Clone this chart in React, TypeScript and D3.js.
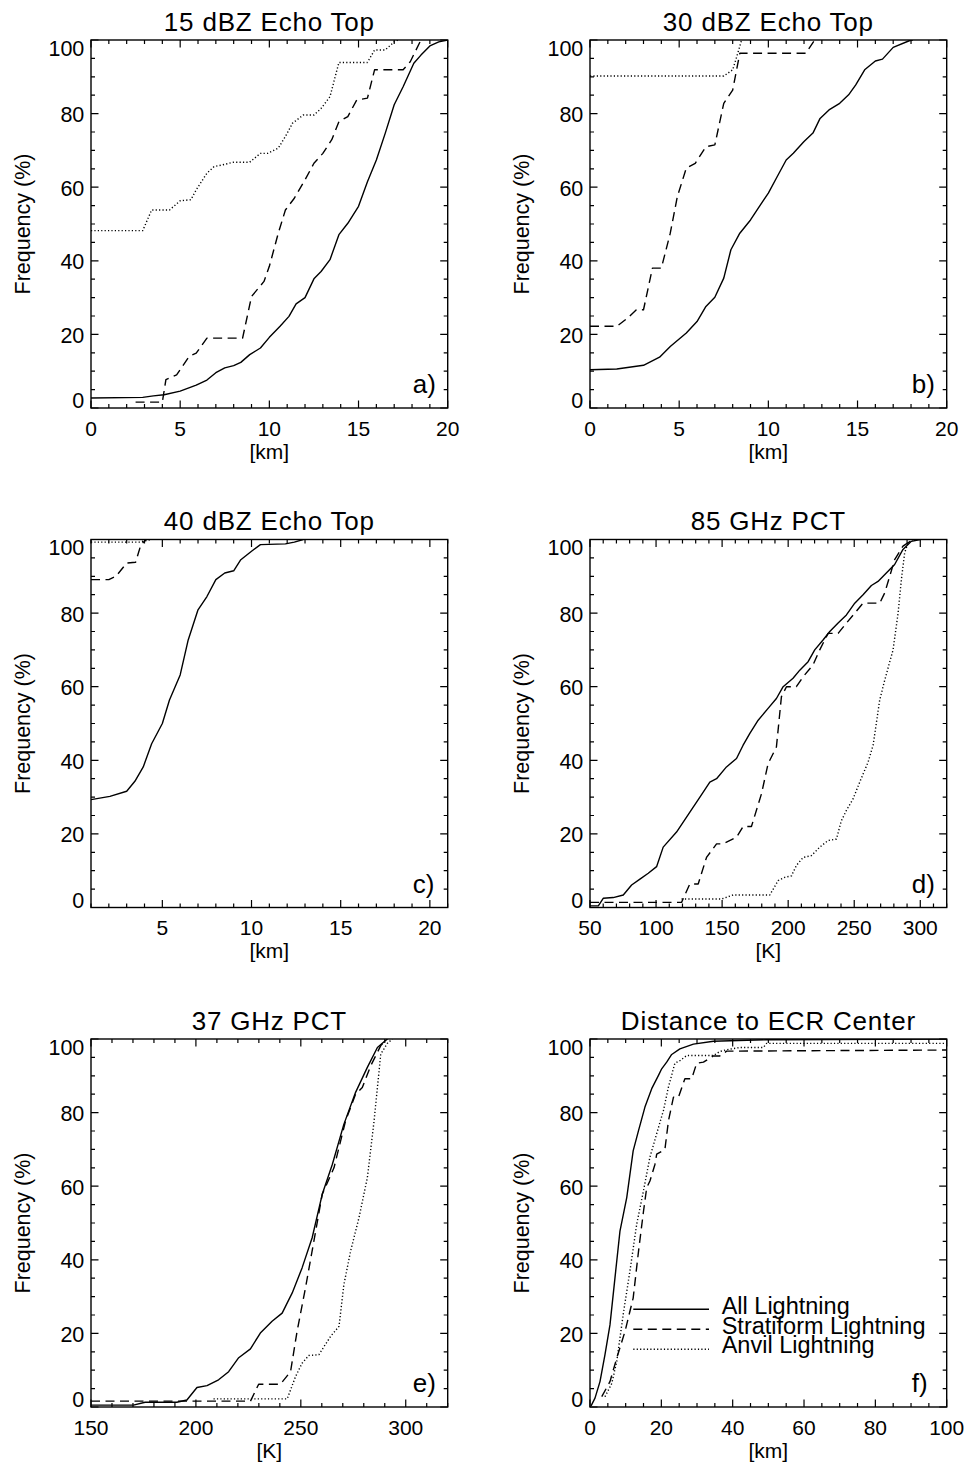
import React from 'react';
import * as d3 from 'd3';

type Pt = [number, number];

// ---- data (x, cumulative frequency %) ----
const echo15All: Pt[] = [[0,2.7],[2.9,2.9],[3.5,3.3],[4.1,3.6],[5.0,4.6],[5.9,6.2],[6.5,7.6],[7.0,9.6],[7.5,10.9],[8.0,11.5],[8.4,12.4],[8.9,14.5],[9.5,16.3],[10.0,19.2],[10.6,22.2],[11.1,24.9],[11.5,28.3],[12.0,30.0],[12.5,35.1],[12.9,37.1],[13.4,40.3],[13.9,47.1],[14.4,50.2],[15.0,54.8],[15.5,61.5],[16.0,67.4],[16.5,74.7],[17.0,82.4],[17.5,87.3],[18.1,93.7],[18.5,95.9],[19.0,98.4],[19.5,99.5],[20,100]];
const echo15Strat: Pt[] = [[2.5,1.6],[4.0,1.6],[4.2,7.7],[4.8,9.0],[5.5,14.0],[5.9,14.9],[6.5,19.0],[8.5,19.0],[9.0,30.3],[9.7,34.4],[10.0,38.5],[10.5,47.5],[10.9,53.8],[11.4,57.0],[12.0,62.0],[12.5,66.5],[13.0,69.2],[13.5,72.9],[13.9,77.8],[14.4,79.2],[14.9,83.7],[15.5,84.2],[15.9,91.9],[17.5,91.9],[17.9,94.1],[18.5,100]];
const echo15Anvil: Pt[] = [[0,48.2],[2.9,48.2],[3.4,53.8],[4.4,53.8],[5.0,56.3],[5.6,56.6],[5.9,59.3],[6.5,63.8],[6.9,65.6],[7.4,66.1],[8.0,66.8],[8.9,66.8],[9.5,69.2],[9.9,69.2],[10.5,70.6],[10.9,73.8],[11.3,77.4],[11.9,79.6],[12.5,79.6],[12.9,81.4],[13.4,84.6],[13.9,93.9],[15.5,93.9],[15.9,97.3],[16.5,97.3],[17.0,99.5],[17.2,100]];

const echo30All: Pt[] = [[0,10.4],[1.5,10.6],[3.0,11.6],[3.9,13.8],[4.5,16.7],[5.4,20.4],[6.0,23.5],[6.5,27.6],[7.0,30.1],[7.5,35.3],[7.9,43.0],[8.4,47.5],[9.0,51.1],[9.5,54.8],[10.0,58.4],[10.5,62.9],[11.0,67.4],[11.4,69.2],[12.0,72.4],[12.5,74.7],[12.9,78.7],[13.4,81.0],[14.0,82.8],[14.5,85.1],[14.9,87.8],[15.4,91.9],[16.0,94.3],[16.4,94.8],[17.0,98.0],[17.9,99.8],[18.1,100]];
const echo30Strat: Pt[] = [[0,22.2],[1.5,22.2],[2.1,24.4],[2.6,26.7],[3.0,26.7],[3.5,38.0],[4.0,38.0],[4.5,47.5],[4.9,57.5],[5.4,65.2],[5.9,66.5],[6.5,71.0],[7.0,71.5],[7.5,82.8],[8.0,86.4],[8.4,96.4],[12.1,96.4],[12.6,100]];
const echo30Anvil: Pt[] = [[0,90.2],[7.5,90.2],[8.0,91.9],[8.2,95.0],[8.5,100]];

const echo40All: Pt[] = [[1.0,29.3],[2.06,30.2],[3.0,31.6],[3.46,34.3],[3.93,38.2],[4.4,44.5],[5.0,50.0],[5.4,56.4],[6.0,63.2],[6.45,72.7],[7.0,80.9],[7.5,84.5],[8.0,89.1],[8.5,90.9],[9.0,91.5],[9.4,94.5],[10.0,96.8],[10.5,98.6],[11.9,98.8],[12.4,99.3],[12.9,100]];
const echo40Strat: Pt[] = [[1.0,89.1],[2.0,89.1],[2.4,90.0],[3.0,93.6],[3.5,93.8],[3.8,98.6],[4.1,100]];
const echo40Anvil: Pt[] = [[1.0,99.3],[3.7,99.3],[4.4,100]];

const pct85All: Pt[] = [[50,0.45],[56.3,0.45],[60,2.5],[67.6,2.7],[75.2,3.4],[81.5,6.1],[87.8,7.7],[94.1,9.3],[100.4,11.1],[105.4,16.4],[115.5,20.5],[125.6,25.9],[133.2,30.0],[140.7,34.1],[145.8,35.0],[153.3,38.2],[160.9,40.5],[165.9,44.1],[171.0,47.3],[177.3,50.9],[184.8,54.1],[191.1,56.8],[196.2,60.0],[203.7,62.3],[208.8,64.5],[215.1,66.8],[220.1,70.0],[226.4,72.7],[231.5,75.0],[237.8,77.3],[244.1,79.5],[250.4,82.7],[256.7,85.0],[263.0,87.5],[268.0,88.6],[274.3,90.9],[280.6,93.2],[286.9,97.3],[293.2,99.5],[300,100]];
const pct85Strat: Pt[] = [[50,1.4],[119.3,1.4],[125.6,6.4],[131.9,6.4],[138.2,13.6],[145.8,17.3],[150.8,17.3],[160.9,19.1],[165.9,22.0],[172.2,22.0],[179.8,30.9],[184.8,39.1],[191.1,43.6],[194.9,57.3],[198.7,60.0],[206.2,60.0],[211.3,62.7],[218.8,65.9],[223.9,70.0],[230.2,74.5],[237.8,74.5],[244.1,77.3],[250.4,80.0],[256.7,82.7],[269.3,82.7],[273.1,85.5],[280.6,94.5],[286.9,98.2],[293.2,99.7],[296,100]];
const pct85Anvil: Pt[] = [[119.3,2.3],[149.5,2.3],[158.4,3.4],[186.1,3.4],[192.4,7.3],[197.4,8.2],[202.5,8.6],[206.2,11.4],[211.3,13.6],[217.6,14.1],[223.9,16.4],[230.2,18.2],[236.5,18.6],[240.3,23.6],[244.1,26.4],[249.1,29.5],[254.2,34.1],[260.5,39.5],[264.3,44.1],[269.3,56.4],[273.1,61.8],[279.4,70.0],[283.2,80.0],[285.7,89.1],[288.2,96.4],[290.7,99.1],[294.5,100]];

const pct37All: Pt[] = [[150,0.5],[170.2,0.5],[175.8,1.3],[190.9,1.3],[195.7,1.9],[200.5,5.3],[205.3,5.8],[210.8,7.4],[215.6,9.6],[220.4,13.4],[226.0,15.8],[230.7,20.1],[236.3,23.3],[241.1,25.5],[245.9,31.0],[250.6,37.8],[255.4,46.0],[260.2,57.8],[265.0,65.9],[270.5,76.8],[276.1,85.5],[281.7,92.3],[286.5,97.7],[291.2,100]];
const pct37Strat: Pt[] = [[150,1.6],[226.0,1.6],[229.9,6.2],[240.3,6.2],[245.1,9.6],[248.2,20.5],[252.2,32.3],[256.2,45.0],[260.2,57.8],[265.8,65.0],[271.3,77.7],[276.1,85.0],[279.3,86.8],[283.3,92.7],[288.1,98.2],[291.2,100]];
const pct37Anvil: Pt[] = [[208.4,2.2],[243.5,2.2],[247.5,8.3],[250.6,11.9],[253.8,14.0],[258.6,14.2],[264.2,19.2],[268.2,21.9],[270.5,33.2],[273.7,42.3],[277.7,51.4],[281.7,62.3],[284.9,77.7],[288.1,95.9],[291.2,98.8],[293.6,100]];

const distAll: Pt[] = [[0.3,0.3],[1.4,2.4],[2.8,6.9],[4.2,14.2],[5.6,22.3],[7.0,35.1],[8.4,47.8],[10.3,56.9],[12.1,69.6],[13.6,75.1],[15.4,81.5],[17.3,86.5],[19.2,90.1],[20.1,91.9],[21.5,93.7],[22.9,95.8],[25.2,97.3],[29.0,98.6],[34.6,99.4],[49.5,99.8],[100,100]];
const distStrat: Pt[] = [[3.3,2.8],[5.6,6.9],[7.5,13.3],[9.8,20.5],[12.1,29.6],[13.6,42.3],[15.0,53.2],[15.9,59.6],[16.8,61.4],[18.2,65.9],[18.7,68.7],[21.0,70.0],[22.0,77.8],[23.4,84.2],[24.8,84.2],[26.6,89.2],[28.5,89.2],[29.9,93.4],[31.8,93.7],[34.6,95.4],[36.4,95.4],[38.3,96.7],[100,97.0]];
const distAnvil: Pt[] = [[4.2,2.8],[6.1,6.4],[7.5,12.4],[9.3,25.1],[11.2,37.0],[13.1,49.7],[15.0,58.8],[16.8,67.9],[18.7,74.3],[20.6,80.6],[22.0,87.0],[23.8,93.4],[25.2,94.1],[27.1,95.5],[34.6,95.5],[36.4,96.6],[38.3,97.1],[42.1,97.7],[48.6,97.7],[49.5,98.8],[100,98.8]];

const titles = ['15 dBZ Echo Top', '30 dBZ Echo Top', '40 dBZ Echo Top', '85 GHz PCT', '37 GHz PCT', 'Distance to ECR Center'];
const tags = ['a)', 'b)', 'c)', 'd)', 'e)', 'f)'];
const xLabels = ['[km]', '[km]', '[km]', '[K]', '[K]', '[km]'];
const xDomains: [number, number][] = [[0, 20], [0, 20], [1, 21], [50, 320], [150, 320], [0, 100]];
const xMajorTicks = [[0, 5, 10, 15, 20], [0, 5, 10, 15, 20], [5, 10, 15, 20], [50, 100, 150, 200, 250, 300], [150, 200, 250, 300], [0, 20, 40, 60, 80, 100]];
const xMinorSteps = [1, 1, 1, 10, 10, 5];
const yMajorTicks = [0, 20, 40, 60, 80, 100];
const seriesNames = ['All Lightning', 'Stratiform Lightning', 'Anvil Lightning'];
const panelSeries: Pt[][][] = [
  [echo15All, echo15Strat, echo15Anvil],
  [echo30All, echo30Strat, echo30Anvil],
  [echo40All, echo40Strat, echo40Anvil],
  [pct85All, pct85Strat, pct85Anvil],
  [pct37All, pct37Strat, pct37Anvil],
  [distAll, distStrat, distAnvil],
];

// ---- styling / layout ----
const W = 967, H = 1467;
const colLeft = [91, 590];
const rowTop = [40, 539.5, 1039];
const plotW = 356.7, plotH = 368;
const FONT = '"Liberation Sans", Arial, Helvetica, sans-serif';
const dashes = [null, '9,5.5', '1.2,2.2'];
const LW = 1.4;

function Panel({ i }: { i: number }) {
  const left = colLeft[i % 2];
  const top = rowTop[Math.floor(i / 2)];
  const right = left + plotW, bottom = top + plotH;
  const [x0, x1] = xDomains[i];
  const x = d3.scaleLinear().domain(xDomains[i]).range([left, right]);
  const y = d3.scaleLinear().domain([0, 100]).range([bottom, top]);
  const line = d3.line<Pt>().x(d => x(d[0])).y(d => y(d[1]));
  const xMinor = d3.range(x0, x1 + 1e-9, xMinorSteps[i]).filter(v => !xMajorTicks[i].some(m => Math.abs(m - v) < 1e-9));
  const yMinor = d3.range(0, 100.0001, 5).filter(v => v % 20 !== 0);
  const clipId = `clip${i}`;
  const MAJ = 7.5, MIN = 4;
  const tk: string[] = [];
  xMajorTicks[i].forEach(v => { const px = x(v); tk.push(`M${px},${bottom}V${bottom - MAJ}M${px},${top}V${top + MAJ}`); });
  xMinor.forEach(v => { const px = x(v); tk.push(`M${px},${bottom}V${bottom - MIN}M${px},${top}V${top + MIN}`); });
  yMajorTicks.forEach(v => { const py = y(v); tk.push(`M${left},${py}H${left + MAJ}M${right},${py}H${right - MAJ}`); });
  yMinor.forEach(v => { const py = y(v); tk.push(`M${left},${py}H${left + MIN}M${right},${py}H${right - MIN}`); });

  return (
    <g>
      <defs>
        <clipPath id={clipId}><rect x={left} y={top} width={plotW} height={plotH} /></clipPath>
      </defs>
      <text x={(left + right) / 2} y={top - 9.3} textAnchor="middle" fontSize={26} letterSpacing={0.8} fontFamily={FONT}>{titles[i]}</text>
      <g clipPath={`url(#${clipId})`}>
        {panelSeries[i].map((s, k) => (
          <path key={k} d={line(s) || ''} fill="none" stroke="#000" strokeWidth={LW}
            strokeDasharray={dashes[k] || undefined} strokeLinejoin="round" />
        ))}
      </g>
      <path d={tk.join('')} stroke="#000" strokeWidth={1.2} fill="none" />
      <rect x={left} y={top} width={plotW} height={plotH} fill="none" stroke="#000" strokeWidth={1.4} />
      {xMajorTicks[i].map(v => (
        <text key={'x' + v} x={x(v)} y={bottom + 27.5} textAnchor="middle" fontSize={21} fontFamily={FONT}>{v}</text>
      ))}
      {yMajorTicks.map(v => {
        const cy = Math.max(top + 8.3, Math.min(bottom - 7.3, y(v) + 1));
        return <text key={'y' + v} x={left - 6.7} y={cy + 7.5} textAnchor="end" fontSize={21.5} fontFamily={FONT}>{v}</text>;
      })}
      <text x={(left + right) / 2} y={bottom + 50.5} textAnchor="middle" fontSize={21} fontFamily={FONT}>{xLabels[i]}</text>
      <text transform={`translate(${left - 61.5},${(top + bottom) / 2}) rotate(-90)`} textAnchor="middle" fontSize={21.5} fontFamily={FONT}>Frequency (%)</text>
      <text x={right - 35} y={bottom - 15} fontSize={26} fontFamily={FONT}>{tags[i]}</text>
      {i === 5 && seriesNames.map((name, k) => (
        <g key={name}>
          <line x1={left + 43.3} x2={left + 119} y1={top + 270.3 + 20 * k} y2={top + 270.3 + 20 * k}
            stroke="#000" strokeWidth={LW} strokeDasharray={dashes[k] || undefined} />
          <text x={left + 131.7} y={top + 275.3 + 19.5 * k} fontSize={23.5} fontFamily={FONT}>{name}</text>
        </g>
      ))}
    </g>
  );
}

export default function App() {
  return (
    <svg width={W} height={H} viewBox={`0 0 ${W} ${H}`} style={{ position: 'absolute', left: 0, top: 0, background: '#fff' }}>
      <rect x={0} y={0} width={W} height={H} fill="#fff" />
      {titles.map((_, i) => <Panel key={i} i={i} />)}
    </svg>
  );
}
